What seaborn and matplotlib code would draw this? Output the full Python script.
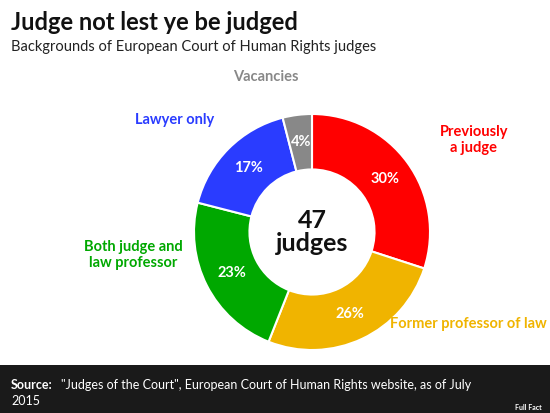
import matplotlib
matplotlib.use("Agg")
import matplotlib.pyplot as plt
import seaborn as sns
import numpy as np

sns.set_theme(style="white")
plt.rcParams['font.family'] = ['Lato', 'DejaVu Sans']

categories = ["Previously\na judge", "Former professor of law", "Both judge and\nlaw professor", "Lawyer only", "Vacancies"]
values = [30, 26, 23, 17, 4]
labels_pct = ["30%", "26%", "23%", "17%", "4%"]
colors = ["#ff0000", "#f0b400", "#00a800", "#2a3cff", "#888888"]

fig = plt.figure(figsize=(5.5, 4.13), dpi=100)
fig.patch.set_facecolor("white")
fig.text(0.02, 0.945, "Judge not lest ye be judged", fontsize=17, fontweight="bold", va="center", color="#111111")
fig.text(0.02, 0.885, "Backgrounds of European Court of Human Rights judges", fontsize=10.5, va="center", color="#222222")

ax = fig.add_axes([194/550, 63/413, 236/550, 236/413])
wedges, _ = ax.pie(values, colors=colors, startangle=90, counterclock=False,
                   wedgeprops=dict(width=0.47, edgecolor="white", linewidth=1.5))
ang = 90
for v, p in zip(values, labels_pct):
    mid = np.deg2rad(ang - v * 3.6 / 2)
    r = 0.765
    ax.text(r*np.cos(mid), r*np.sin(mid), p, ha="center", va="center", color="white", fontsize=10.5, fontweight="bold")
    ang -= v * 3.6
ax.text(0, 0, "47\njudges", ha="center", va="center", fontsize=18, fontweight="bold", color="#111111", linespacing=1.0)
ax.set_xlim(-1, 1); ax.set_ylim(-1, 1)
ax.set_aspect("equal")

fig.text(474/550, 1-140/413, categories[0], ha="center", va="center", color="#ff0000", fontsize=10.5, fontweight="bold")
fig.text(468/550, 1-324/413, categories[1], ha="center", va="center", color="#f0b400", fontsize=10.5, fontweight="bold")
fig.text(133/550, 1-255/413, categories[2], ha="center", va="center", color="#00a800", fontsize=10.5, fontweight="bold")
fig.text(175/550, 1-120/413, categories[3], ha="center", va="center", color="#2a3cff", fontsize=10.5, fontweight="bold")
fig.text(266/550, 1-77/413, categories[4], ha="center", va="center", color="#888888", fontsize=10.5, fontweight="bold")

bar = fig.add_axes([0, 0, 1, 48/413])
bar.set_facecolor("#1a1a1a"); bar.set_xticks([]); bar.set_yticks([])
for s in bar.spines.values(): s.set_visible(False)
fig.text(0.02, 28/413, "Source:", color="white", fontsize=9, va="center", fontweight="bold")
fig.text(0.02 + 50/550, 28/413, '"Judges of the Court", European Court of Human Rights website, as of July', color="white", fontsize=9, va="center")
fig.text(0.02, 12/413, "2015", color="white", fontsize=9, va="center")
fig.text(0.985, 6/413, "Full Fact", color="white", fontsize=5, ha="right", va="center", fontweight="bold")

fig.savefig("out.png", dpi=100)
